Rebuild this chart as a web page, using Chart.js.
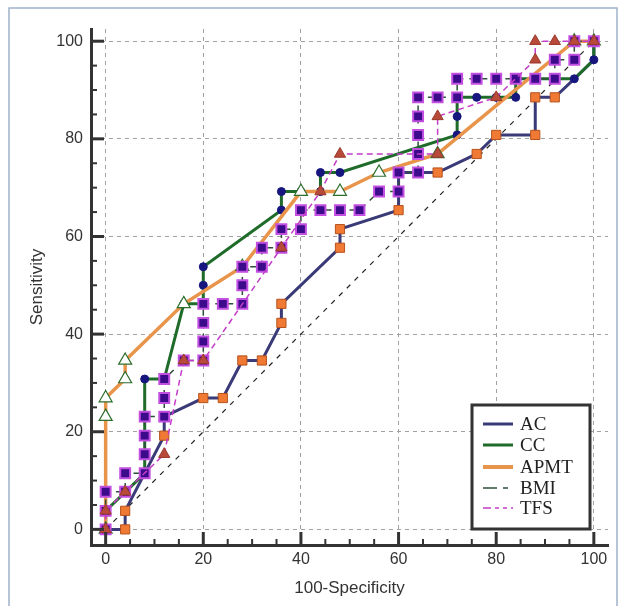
<!DOCTYPE html>
<html><head><meta charset="utf-8">
<script src="https://cdn.jsdelivr.net/npm/chart.js@4.4.0/dist/chart.umd.min.js"></script>
<style>html,body{margin:0;padding:0;background:#fff;} #wrap{width:625px;height:606px;position:relative;}</style>
</head><body><div id="wrap"><canvas id="c" width="625" height="606"></canvas></div>
<script>
// ---- data ----
const xTicks = [0, 20, 40, 60, 80, 100];
const yTicks = [0, 20, 40, 60, 80, 100];
const seriesNames = ['AC', 'CC', 'APMT', 'BMI', 'TFS'];
const xTitle = '100-Specificity';
const yTitle = 'Sensitivity';

const acX = [0, 4, 4, 12, 12, 20, 24, 28, 32, 36, 36, 48, 48, 60, 60, 68, 76, 80, 88, 88, 92, 96, 100, 100];
const acY = [0, 0, 3.8, 19.2, 23.1, 26.9, 26.9, 34.6, 34.6, 42.3, 46.2, 57.7, 61.5, 65.4, 73.1, 73.1, 76.9, 80.8, 80.8, 88.5, 88.5, 92.3, 96.2, 100];

const ccX = [0, 0, 8, 8, 12, 16, 20, 20, 20, 36, 36, 40, 44, 44, 48, 72, 72, 72, 76, 80, 84, 84, 88, 92, 96, 100, 100];
const ccY = [0, 3.8, 11.5, 30.8, 30.8, 46.2, 46.2, 50, 53.8, 65.4, 69.2, 69.2, 69.2, 73.1, 73.1, 80.8, 84.6, 88.5, 88.5, 88.5, 88.5, 92.3, 92.3, 92.3, 92.3, 96.2, 100];

const apX = [0, 0, 0, 4, 4, 16, 28, 40, 48, 56, 68, 96, 100];
const apY = [0, 23.1, 26.9, 30.8, 34.6, 46.2, 53.8, 69.2, 69.2, 73.1, 76.9, 100, 100];

const bmX = [0, 0, 0, 4, 4, 8, 8, 8, 8, 12, 12, 12, 16, 20, 20, 20, 20, 24, 28, 28, 28, 32, 32, 36, 36, 40, 40, 44, 48, 52, 56, 60, 60, 64, 64, 64, 64, 64, 68, 72, 72, 76, 80, 84, 88, 92, 92, 96, 96, 100];
const bmY = [0, 3.8, 7.7, 7.7, 11.5, 11.5, 15.4, 19.2, 23.1, 23.1, 26.9, 30.8, 34.6, 34.6, 38.5, 42.3, 46.2, 46.2, 46.2, 50, 53.8, 53.8, 57.7, 57.7, 61.5, 61.5, 65.4, 65.4, 65.4, 65.4, 69.2, 69.2, 73.1, 73.1, 76.9, 80.8, 84.6, 88.5, 88.5, 88.5, 92.3, 92.3, 92.3, 92.3, 92.3, 92.3, 96.2, 96.2, 100, 100];

const tfX = [0, 0, 4, 12, 16, 20, 36, 44, 48, 68, 68, 80, 88, 88, 92, 96, 100];
const tfY = [0, 3.8, 7.7, 15.4, 34.6, 34.6, 57.7, 69.2, 76.9, 76.9, 84.6, 88.5, 96.2, 100, 100, 100, 100];

const diagX = [0, 100];
const diagY = [0, 100];

// ---- helpers ----
const pts = (xs, ys) => xs.map((x, i) => ({x: x, y: ys[i]}));

const COL = {
  ac: '#3a3a78', cc: '#1f6b2a', ap: '#e8944a', bm: '#2e4f3a', tf: '#c43cc8'
};

const legendItems = [
  {name: seriesNames[0], color: COL.ac, width: 3, dash: []},
  {name: seriesNames[1], color: COL.cc, width: 3, dash: []},
  {name: seriesNames[2], color: COL.ap, width: 4, dash: []},
  {name: seriesNames[3], color: COL.bm, width: 1.5, dash: [14, 6, 5, 100]},
  {name: seriesNames[4], color: COL.tf, width: 1.5, dash: [8, 4, 4, 4, 4, 4]}
];

const decoPlugin = {
  id: 'deco',
  beforeDraw(chart) {
    const ctx = chart.ctx;
    ctx.save();
    ctx.fillStyle = '#fff';
    ctx.fillRect(0, 0, chart.width, chart.height);
    ctx.strokeStyle = '#9fb3c8';
    ctx.lineWidth = 1.5;
    ctx.strokeRect(9, 8, 608, 610);
    ctx.restore();
  },
  afterDraw(chart) {
    const ctx = chart.ctx;
    const xs = chart.scales.x, ys = chart.scales.y;
    const ca = chart.chartArea;
    ctx.save();
    ctx.strokeStyle = '#333';
    // tick marks (inward)
    for (let v = 0; v <= 100; v += 5) {
      const major = v % 20 === 0;
      ctx.lineWidth = major ? 3 : 2;
      const len = major ? 13 : 6;
      const py = ys.getPixelForValue(v);
      ctx.beginPath(); ctx.moveTo(ca.left, py); ctx.lineTo(ca.left + len, py); ctx.stroke();
      const px = xs.getPixelForValue(v);
      ctx.beginPath(); ctx.moveTo(px, ca.bottom); ctx.lineTo(px, ca.bottom - len); ctx.stroke();
    }
    // legend box
    const bx = 472, by = 405, bw = 118, bh = 124;
    ctx.fillStyle = '#fff';
    ctx.fillRect(bx, by, bw, bh);
    ctx.lineWidth = 3;
    ctx.strokeStyle = '#333';
    ctx.strokeRect(bx, by, bw, bh);
    const rows = [424, 445, 467, 488, 508];
    ctx.font = '19px "Liberation Serif", "Times New Roman", serif';
    ctx.textBaseline = 'middle';
    ctx.textAlign = 'left';
    legendItems.forEach((it, i) => {
      const y = rows[i];
      ctx.beginPath();
      ctx.setLineDash(it.dash);
      ctx.lineWidth = it.width;
      ctx.strokeStyle = it.color;
      ctx.moveTo(483, y); ctx.lineTo(513, y);
      ctx.stroke();
      ctx.setLineDash([]);
      ctx.fillStyle = '#222';
      ctx.fillText(it.name, 520, y + 1);
    });
    ctx.restore();
  }
};

const keepTicks = (list) => (scale) => {
  scale.ticks = list.map(v => ({value: v}));
};

new Chart(document.getElementById('c'), {
  type: 'scatter',
  data: {
    datasets: [
      {
        label: 'ref', data: pts(diagX, diagY), showLine: true, order: 6,
        borderColor: '#222', borderWidth: 1.2, borderDash: [5, 6], pointRadius: 0
      },
      {
        label: seriesNames[0], data: pts(acX, acY), showLine: true, order: 5,
        borderColor: COL.ac, borderWidth: 3,
        pointStyle: 'rect',
        pointRadius: (c) => c.dataIndex >= acX.length - 3 ? 0 : 6.5,
        pointBackgroundColor: '#f07a34', pointBorderColor: '#b5521e', pointBorderWidth: 1
      },
      {
        label: seriesNames[1], data: pts(ccX, ccY), showLine: true, order: 4,
        borderColor: COL.cc, borderWidth: 3,
        pointStyle: 'circle', pointRadius: 4,
        pointBackgroundColor: '#16167e', pointBorderColor: '#16167e', pointBorderWidth: 1
      },
      {
        label: seriesNames[2], data: pts(apX, apY), showLine: true, order: 3,
        borderColor: COL.ap, borderWidth: 3.5,
        pointStyle: 'triangle', pointRadius: 7.5,
        pointBackgroundColor: '#ffffff', pointBorderColor: '#2c6e2c', pointBorderWidth: 1.2
      },
      {
        label: seriesNames[3], data: pts(bmX, bmY), showLine: true, order: 2,
        borderColor: COL.bm, borderWidth: 1.5, borderDash: [6, 6],
        pointStyle: 'rect', pointRadius: 7,
        pointBackgroundColor: '#3b0b8c', pointBorderColor: '#c24fe0', pointBorderWidth: 2
      },
      {
        label: seriesNames[4], data: pts(tfX, tfY), showLine: true, order: 1,
        borderColor: COL.tf, borderWidth: 1.5, borderDash: [6, 4],
        pointStyle: 'triangle', pointRadius: 6.5,
        pointBackgroundColor: '#b84a3a', pointBorderColor: '#9a3a2c', pointBorderWidth: 1
      }
    ]
  },
  options: {
    responsive: false,
    animation: false,
    events: [],
    layout: {padding: {left: 0, top: 29, right: 17, bottom: 0}},
    plugins: {legend: {display: false}, tooltip: {enabled: false}},
    scales: {
      x: {
        type: 'linear', min: -3, max: 102.9,
        afterBuildTicks: keepTicks(xTicks),
        afterFit: (s) => { s.height = 61; },
        grid: {color: '#a0a0a0', lineWidth: 1, drawTicks: false},
        border: {display: true, color: '#333', width: 3, dash: [4, 4]},
        ticks: {padding: 5, color: '#333', font: {family: '"Liberation Sans", Arial, sans-serif', size: 16}},
        title: {display: true, text: xTitle, color: '#333', padding: {top: 0, bottom: 7},
          font: {family: '"Liberation Sans", Arial, sans-serif', size: 17}}
      },
      y: {
        type: 'linear', min: -3.2, max: 102.5,
        afterBuildTicks: keepTicks(yTicks),
        afterFit: (s) => { s.width = 91; },
        grid: {color: '#a0a0a0', lineWidth: 1, drawTicks: false},
        border: {display: true, color: '#333', width: 3, dash: [4, 4]},
        ticks: {padding: 8, color: '#333', font: {family: '"Liberation Sans", Arial, sans-serif', size: 16}},
        title: {display: true, text: yTitle, color: '#333', padding: {top: 27, bottom: 0},
          font: {family: '"Liberation Sans", Arial, sans-serif', size: 17}}
      }
    }
  },
  plugins: [decoPlugin]
});
</script>
</body></html>
